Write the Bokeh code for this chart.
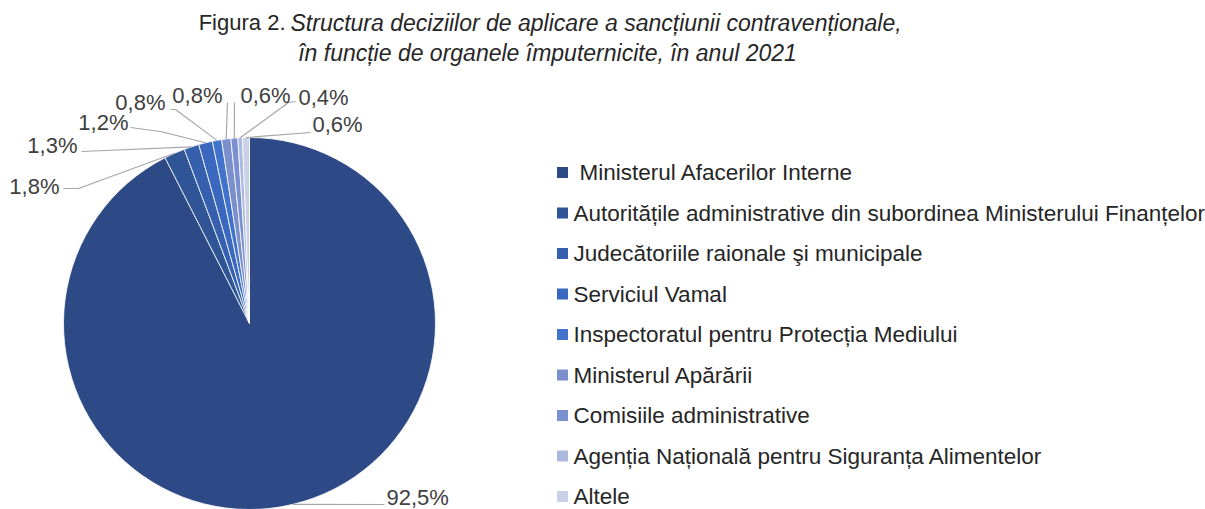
import math
from bokeh.plotting import figure
from bokeh.models import Range1d
from bokeh.core.properties import value
from bokeh.embed import file_html
from bokeh.resources import INLINE

# ---------------- data ----------------
categories = [
    "Ministerul Afacerilor Interne",
    "Autoritățile administrative din subordinea Ministerului Finanțelor",
    "Judecătoriile raionale şi municipale",
    "Serviciul  Vamal",
    "Inspectoratul pentru Protecția Mediului",
    "Ministerul Apărării",
    "Comisiile administrative",
    "Agenția Națională pentru Siguranța Alimentelor",
    "Altele",
]
shares = [92.5, 1.8, 1.3, 1.2, 0.8, 0.8, 0.6, 0.4, 0.6]
share_labels = ["92,5%", "1,8%", "1,3%", "1,2%", "0,8%", "0,8%", "0,6%", "0,4%", "0,6%"]
title_prefix = "Figura 2."
title_line1 = "Structura deciziilor de aplicare a sancțiunii contravenționale,"
title_line2 = "în funcție de organele împuternicite, în anul 2021"

# ---------------- style / layout ----------------
colors = ["#2E4A86", "#2F5597", "#3660AE", "#3A68BF", "#4273CC",
          "#7B8FCC", "#7A90D0", "#ACB9DD", "#C9D0E8"]
W, H = 1205, 509
FONT = "Liberation Sans"


def X(x):  # picture px -> data
    return x


def Y(y):
    return H - y


CX, CY, R = X(249), Y(323), 186

# label layout (picture px): text anchor, alignment, leader path points (label side first)
label_layout = [
    dict(t=(386, 497), align="left", path=[(384, 504)]),
    dict(t=(59, 186), align="right", path=[(63, 188), (78, 188)]),
    dict(t=(77, 145), align="right", path=[(81, 151)]),
    dict(t=(128, 122), align="right", path=[(130, 127), (160, 131)]),
    dict(t=(165, 102), align="right", path=[(170, 109), (175, 109)]),
    dict(t=(222, 95), align="right", path=[(227, 102)]),
    dict(t=(240, 95), align="left", path=[(234, 102)]),
    dict(t=(298, 97), align="left", path=[(295, 101), (288, 102)]),
    dict(t=(312, 124), align="left", path=[(310, 132)]),
]

p = figure(width=W, height=H, x_range=Range1d(0, W), y_range=Range1d(0, H),
           output_backend="svg", toolbar_location=None,
           x_axis_location=None, y_axis_location=None, min_border=0)
p.grid.visible = False
p.outline_line_color = None
p.background_fill_color = "white"
p.border_fill_color = "white"

# ---------------- pie ----------------
starts, ends, mids = [], [], []
cum = 0.0
total = sum(shares)
for s in shares:
    a0 = math.pi / 2 - 2 * math.pi * cum / total
    a1 = math.pi / 2 - 2 * math.pi * (cum + s) / total
    starts.append(a0)
    ends.append(a1)
    mids.append((a0 + a1) / 2)
    cum += s

p.wedge(x=[CX] * len(shares), y=[CY] * len(shares), radius=R,
        start_angle=starts, end_angle=ends, direction="clock",
        fill_color=colors, line_color="white", line_width=0.8)

# ---------------- leader lines + labels ----------------
xs, ys = [], []
for m, lay in zip(mids, label_layout):
    ex, ey = CX + R * math.cos(m), CY + R * math.sin(m)
    pts = [(X(a), Y(b)) for a, b in lay["path"]]
    xs.append([pt[0] for pt in pts] + [ex])
    ys.append([pt[1] for pt in pts] + [ey])
p.multi_line(xs=xs, ys=ys, line_color="#A6A6A6", line_width=1.2)

for lab, lay in zip(share_labels, label_layout):
    p.text(x=[X(lay["t"][0])], y=[Y(lay["t"][1])], text=[lab],
           text_align=lay["align"], text_baseline="middle",
           text_font=value(FONT), text_font_size="22px",
           text_color="#404040")

# ---------------- legend ----------------
row0, step = 172, 40.5
ly = [Y(row0 + i * step) for i in range(len(categories))]
lx = [X(579)] + [X(573)] * (len(categories) - 1)
p.scatter(x=[X(562)] * len(categories), y=ly, marker="square", size=11,
          fill_color=colors, line_color=None)
p.text(x=lx, y=ly, text=categories,
       text_align="left", text_baseline="middle",
       text_font=value(FONT), text_font_size="22.5px",
       text_color="#262626")

# ---------------- title ----------------
p.text(x=[X(285)], y=[Y(22)], text=[title_prefix], text_align="right",
       text_baseline="middle", text_font=value(FONT),
       text_font_size="22px", text_color="#262626")
p.text(x=[X(290)], y=[Y(22)], text=[title_line1], text_align="left",
       text_baseline="middle", text_font=value(FONT),
       text_font_style="italic", text_font_size="23px", text_color="#262626")
p.text(x=[X(547)], y=[Y(52)], text=[title_line2], text_align="center",
       text_baseline="middle", text_font=value(FONT),
       text_font_style="italic", text_font_size="23px", text_color="#262626")

open("out.html", "w").write(file_html(p, INLINE))
